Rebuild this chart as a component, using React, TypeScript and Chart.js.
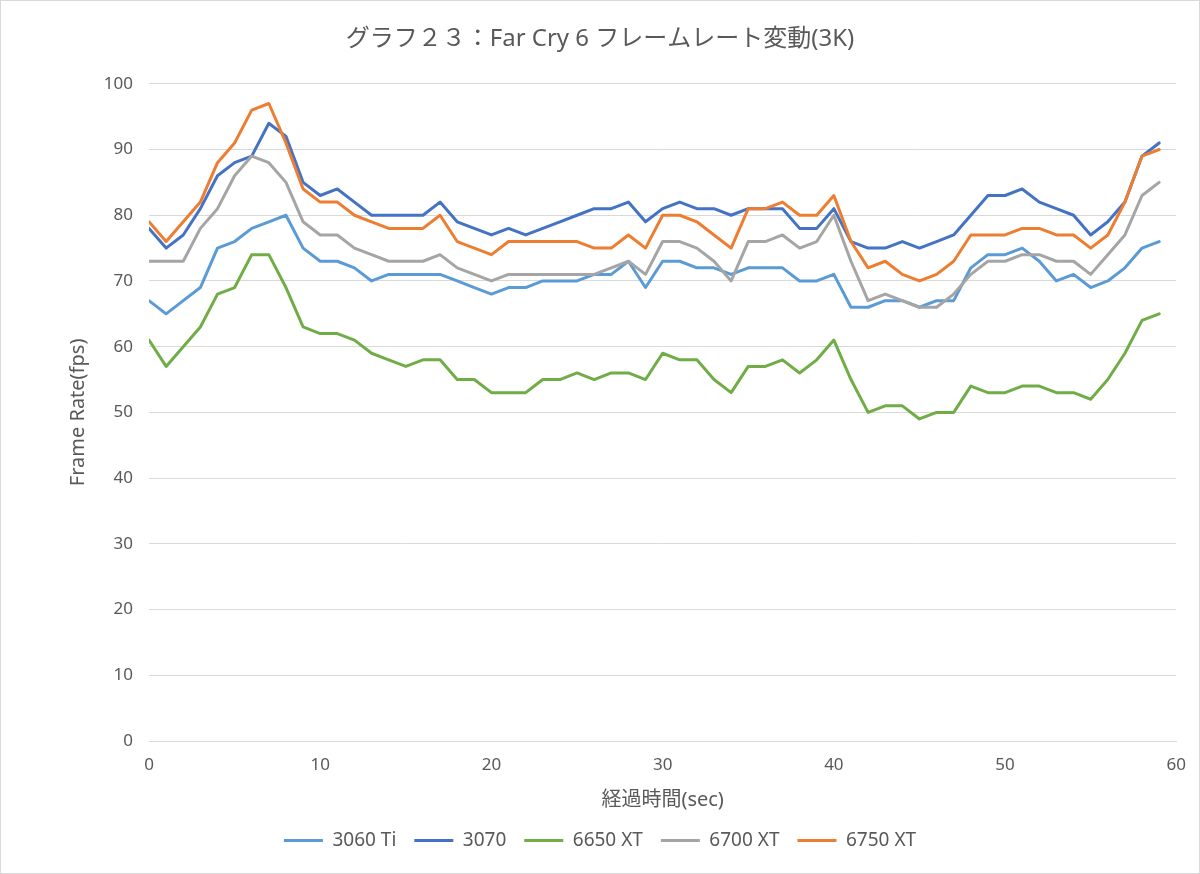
import React, { useEffect, useRef } from "react";
import { Chart, registerables } from "chart.js";

Chart.register(...registerables);

const seconds = [
  0, 1, 2, 3, 4, 5, 6, 7, 8, 9, 10, 11, 12, 13, 14, 15, 16, 17, 18, 19,
  20, 21, 22, 23, 24, 25, 26, 27, 28, 29, 30, 31, 32, 33, 34, 35, 36, 37, 38, 39,
  40, 41, 42, 43, 44, 45, 46, 47, 48, 49, 50, 51, 52, 53, 54, 55, 56, 57, 58, 59,
];

const rtx3060Ti = [
  67, 65, 67, 69, 75, 76, 78, 79, 80, 75, 73, 73, 72, 70, 71, 71, 71, 71, 70, 69,
  68, 69, 69, 70, 70, 70, 71, 71, 73, 69, 73, 73, 72, 72, 71, 72, 72, 72, 70, 70,
  71, 66, 66, 67, 67, 66, 67, 67, 72, 74, 74, 75, 73, 70, 71, 69, 70, 72, 75, 76,
];

const rtx3070 = [
  78, 75, 77, 81, 86, 88, 89, 94, 92, 85, 83, 84, 82, 80, 80, 80, 80, 82, 79, 78,
  77, 78, 77, 78, 79, 80, 81, 81, 82, 79, 81, 82, 81, 81, 80, 81, 81, 81, 78, 78,
  81, 76, 75, 75, 76, 75, 76, 77, 80, 83, 83, 84, 82, 81, 80, 77, 79, 82, 89, 91,
];

const rx6650XT = [
  61, 57, 60, 63, 68, 69, 74, 74, 69, 63, 62, 62, 61, 59, 58, 57, 58, 58, 55, 55,
  53, 53, 53, 55, 55, 56, 55, 56, 56, 55, 59, 58, 58, 55, 53, 57, 57, 58, 56, 58,
  61, 55, 50, 51, 51, 49, 50, 50, 54, 53, 53, 54, 54, 53, 53, 52, 55, 59, 64, 65,
];

const rx6700XT = [
  73, 73, 73, 78, 81, 86, 89, 88, 85, 79, 77, 77, 75, 74, 73, 73, 73, 74, 72, 71,
  70, 71, 71, 71, 71, 71, 71, 72, 73, 71, 76, 76, 75, 73, 70, 76, 76, 77, 75, 76,
  80, 73, 67, 68, 67, 66, 66, 68, 71, 73, 73, 74, 74, 73, 73, 71, 74, 77, 83, 85,
];

const rx6750XT = [
  79, 76, 79, 82, 88, 91, 96, 97, 91, 84, 82, 82, 80, 79, 78, 78, 78, 80, 76, 75,
  74, 76, 76, 76, 76, 76, 75, 75, 77, 75, 80, 80, 79, 77, 75, 81, 81, 82, 80, 80,
  83, 76, 72, 73, 71, 70, 71, 73, 77, 77, 77, 78, 78, 77, 77, 75, 77, 82, 89, 90,
];

const seriesNames = ["3060 Ti", "3070", "6650 XT", "6700 XT", "6750 XT"];
const seriesValues = [rtx3060Ti, rtx3070, rx6650XT, rx6700XT, rx6750XT];
const seriesColors = ["#5B9BD5", "#4472C4", "#70AD47", "#A5A5A5", "#ED7D31"];

const chartTitle = "グラフ２３：Far Cry 6 フレームレート変動(3K)";
const xTitle = "経過時間(sec)";
const yTitle = "Frame Rate(fps)";

const FONT = '"Noto Sans", "Noto Sans CJK JP", sans-serif';
const TEXT = "#595959";
const GRID = "#D9D9D9";

const borderPlugin = {
  id: "outerBorder",
  afterDraw(chart: any) {
    const ctx = chart.ctx;
    ctx.save();
    ctx.strokeStyle = GRID;
    ctx.lineWidth = 1;
    ctx.strokeRect(0.5, 0.5, chart.width - 1, chart.height - 1);
    ctx.restore();
  },
};

export default function App() {
  const ref = useRef<HTMLCanvasElement | null>(null);

  useEffect(() => {
    if (!ref.current) return;
    const datasets = seriesNames.map((name, i) => ({
      label: name,
      data: seconds.map((s, j) => ({ x: s, y: seriesValues[i][j] })),
      borderColor: seriesColors[i],
      backgroundColor: seriesColors[i],
      borderWidth: 3,
      pointRadius: 0,
      pointHoverRadius: 0,
      tension: 0,
      borderJoinStyle: "round" as const,
      borderCapStyle: "round" as const,
      fill: false,
      order: seriesNames.length - i,
    }));

    const chart = new Chart(ref.current, {
      type: "line",
      data: { datasets },
      plugins: [borderPlugin],
      options: {
        animation: false,
        responsive: false,
        devicePixelRatio: 1,
        layout: { padding: { left: 23, right: 23, top: 0, bottom: 14 } },
        plugins: {
          title: {
            display: true,
            text: chartTitle,
            color: TEXT,
            font: { family: FONT, size: 24, weight: "normal" },
            padding: { top: 25, bottom: 30 },
          },
          legend: {
            position: "bottom",
            labels: {
              color: TEXT,
              font: { family: FONT, size: 19 },
              boxWidth: 39,
              boxHeight: 3,
              padding: 18,
              sort: (a: any, b: any) => a.datasetIndex - b.datasetIndex,
              generateLabels: (c: any) =>
                Chart.defaults.plugins.legend.labels
                  .generateLabels(c)
                  .map((it: any) => ({ ...it, lineWidth: 0, fillStyle: it.strokeStyle })),
            },
          },
          tooltip: { enabled: false },
        },
        scales: {
          x: {
            type: "linear",
            min: 0,
            max: 60,
            afterFit: (s: any) => {
              s.height = 72;
            },
            ticks: {
              stepSize: 10,
              color: TEXT,
              font: { family: FONT, size: 17 },
              padding: 14,
              maxRotation: 0,
            },
            grid: { display: false, drawTicks: false },
            border: { display: true, color: GRID, width: 1 },
            title: {
              display: true,
              text: xTitle,
              color: TEXT,
              font: { family: FONT, size: 20 },
              padding: { top: 0, bottom: 1 },
            },
          },
          y: {
            min: 0,
            max: 100,
            afterFit: (s: any) => {
              s.width = 126;
            },
            ticks: {
              stepSize: 10,
              color: TEXT,
              font: { family: FONT, size: 17 },
              padding: 16,
            },
            grid: { color: GRID, lineWidth: 1, drawTicks: false },
            border: { display: false },
            title: {
              display: true,
              text: yTitle,
              color: TEXT,
              font: { family: FONT, size: 20 },
              padding: { top: 43, bottom: 0 },
            },
          },
        },
      },
    } as any);

    return () => chart.destroy();
  }, []);

  return (
    <div style={{ position: "fixed", left: 0, top: 0, width: 1200, height: 874, background: "#fff" }}>
      <canvas ref={ref} width={1200} height={874} style={{ display: "block" }} />
    </div>
  );
}
